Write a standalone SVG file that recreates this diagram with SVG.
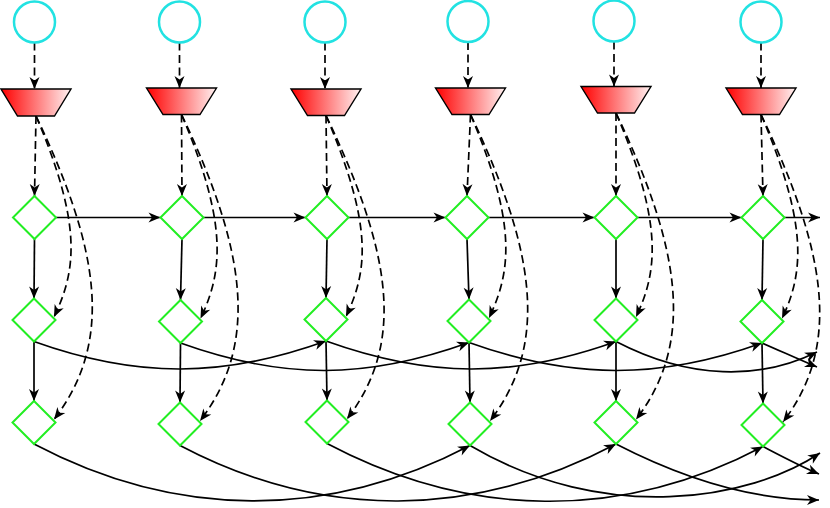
<svg xmlns="http://www.w3.org/2000/svg" width="830" height="508" viewBox="0 0 830 508">
<style>
.c{fill:#fff;stroke:#22e2e2;stroke-width:2.5}
.t{fill:url(#g);stroke:#000;stroke-width:1.4}
.d{fill:#fff;stroke:#22ee22;stroke-width:2}
.e{fill:none;stroke:#000;stroke-width:1.7;marker-end:url(#ah)}
.ds{stroke-dasharray:8 4.5}
</style>
<defs>
<linearGradient id="g" x1="0" y1="0" x2="1" y2="0">
<stop offset="0" stop-color="#ff0000"/>
<stop offset="1" stop-color="#fff2f2"/>
</linearGradient>
<marker id="ah" viewBox="-13 -6 14 12" refX="0" refY="0" markerWidth="14" markerHeight="12" markerUnits="userSpaceOnUse" orient="auto">
<path d="M0,0 L-12,-5 L-8.5,0 L-12,5 Z" fill="#000"/>
</marker>
</defs>
<g id="connectors">
<path class="e ds" d="M34.5,42.5 L34.5,89"/>
<path class="e ds" d="M179.5,42.5 L179.5,88"/>
<path class="e ds" d="M325,42.5 L325,89"/>
<path class="e ds" d="M468,42 L468,88"/>
<path class="e ds" d="M614,41.5 L614,86.5"/>
<path class="e ds" d="M761,42.5 L761,88"/>
<path class="e ds" d="M36,116 L34.5,196"/>
<path class="e ds" d="M181.5,114.5 L182,196"/>
<path class="e ds" d="M326,115.5 L327,196"/>
<path class="e ds" d="M470.5,114.5 L467,196"/>
<path class="e ds" d="M616,113 L616,196"/>
<path class="e ds" d="M761,114.5 L763,196"/>
<path class="e ds" d="M36,116 C83,226 76,271 54,317"/>
<path class="e ds" d="M181.5,114.5 C228.5,224.5 222.5,272.5 200.5,318.5"/>
<path class="e ds" d="M326,115.5 C373,225.5 368,270.5 346,316.5"/>
<path class="e ds" d="M470.5,114.5 C517.5,224.5 511,272 489,318"/>
<path class="e ds" d="M616,113 C663,223 658,271 636,317"/>
<path class="e ds" d="M761,114.5 C808,224.5 804,272.5 782,318.5"/>
<path class="e ds" d="M36,116 C100,250 114,341.5 54,419.5"/>
<path class="e ds" d="M181.5,114.5 C245.5,248.5 260,343 200,421"/>
<path class="e ds" d="M326,115.5 C390,249.5 407,341 347,419"/>
<path class="e ds" d="M470.5,114.5 C534.5,248.5 550,343 490,421"/>
<path class="e ds" d="M616,113 C680,247 696,341.5 636,419.5"/>
<path class="e ds" d="M761,114.5 C825,248.5 843,344 783,422"/>
<path class="e" d="M34.5,239 L34,298.5"/>
<path class="e" d="M182,239 L180.5,300"/>
<path class="e" d="M327,239 L326,298"/>
<path class="e" d="M467,239 L469,299.5"/>
<path class="e" d="M616,239 L616,298.5"/>
<path class="e" d="M763,239 L762,300"/>
<path class="e" d="M34,341.5 L34,401"/>
<path class="e" d="M180.5,343 L180,402.5"/>
<path class="e" d="M326,341 L327,400.5"/>
<path class="e" d="M469,342.5 L470,402.5"/>
<path class="e" d="M616,341.5 L616,401"/>
<path class="e" d="M762,343 L763,403.5"/>
<path class="e" d="M56,217.5 L160.5,217.5"/>
<path class="e" d="M203.5,217.5 L305.5,217.5"/>
<path class="e" d="M348.5,217.5 L445.5,217.5"/>
<path class="e" d="M488.5,217.5 L594.5,217.5"/>
<path class="e" d="M637.5,217.5 L741.5,217.5"/>
<path class="e" d="M784.5,217.5 L820,217.5"/>
<path class="e" d="M34,341.5 C137,378.5 223,378 326,341"/>
<path class="e" d="M180.5,343 C283.5,380 366,379.5 469,342.5"/>
<path class="e" d="M326,341 C429,378 513,378.5 616,341.5"/>
<path class="e" d="M469,342.5 C572,379.5 659,380 762,343"/>
<path class="e" d="M616,341.5 C690,380 760,380 817,352"/>
<path class="e" d="M762,343 C785,353 800,360 817,367"/>
<path class="e" d="M34,444 C176,519 328,520 470,445.5"/>
<path class="e" d="M180,445.5 C322,520.5 474,519 616,444"/>
<path class="e" d="M327,443.5 C469,518.5 621,521.5 763,446.5"/>
<path class="e" d="M470,445.5 C605,525 750,500 820,453"/>
<path class="e" d="M616,444 C680,477 750,500 819,500"/>
<path class="e" d="M763,446.5 C785,458 800,466 819,474"/>
</g>
<g id="src1"><circle class="c" cx="34.5" cy="22" r="20.5"/></g>
<g id="src2"><circle class="c" cx="179.5" cy="22" r="20.5"/></g>
<g id="src3"><circle class="c" cx="325" cy="22" r="20.5"/></g>
<g id="src4"><circle class="c" cx="468" cy="21.5" r="20.5"/></g>
<g id="src5"><circle class="c" cx="614" cy="21" r="20.5"/></g>
<g id="src6"><circle class="c" cx="761" cy="22" r="20.5"/></g>
<g id="trap1"><polygon class="t" points="1,89 71,89 54.5,116 17.5,116"/></g>
<g id="trap2"><polygon class="t" points="146.5,88 216.5,88 200,114.5 163,114.5"/></g>
<g id="trap3"><polygon class="t" points="291,89 361,89 344.5,115.5 307.5,115.5"/></g>
<g id="trap4"><polygon class="t" points="435.5,88 505.5,88 489,114.5 452,114.5"/></g>
<g id="trap5"><polygon class="t" points="581,86.5 651,86.5 634.5,113 597.5,113"/></g>
<g id="trap6"><polygon class="t" points="726,88 796,88 779.5,114.5 742.5,114.5"/></g>
<g id="d1_1"><polygon class="d" points="34.5,196 56,217.5 34.5,239 13,217.5"/></g>
<g id="d1_2"><polygon class="d" points="182,196 203.5,217.5 182,239 160.5,217.5"/></g>
<g id="d1_3"><polygon class="d" points="327,196 348.5,217.5 327,239 305.5,217.5"/></g>
<g id="d1_4"><polygon class="d" points="467,196 488.5,217.5 467,239 445.5,217.5"/></g>
<g id="d1_5"><polygon class="d" points="616,196 637.5,217.5 616,239 594.5,217.5"/></g>
<g id="d1_6"><polygon class="d" points="763,196 784.5,217.5 763,239 741.5,217.5"/></g>
<g id="d2_1"><polygon class="d" points="34,298.5 55.5,320 34,341.5 12.5,320"/></g>
<g id="d2_2"><polygon class="d" points="180.5,300 202,321.5 180.5,343 159,321.5"/></g>
<g id="d2_3"><polygon class="d" points="326,298 347.5,319.5 326,341 304.5,319.5"/></g>
<g id="d2_4"><polygon class="d" points="469,299.5 490.5,321 469,342.5 447.5,321"/></g>
<g id="d2_5"><polygon class="d" points="616,298.5 637.5,320 616,341.5 594.5,320"/></g>
<g id="d2_6"><polygon class="d" points="762,300 783.5,321.5 762,343 740.5,321.5"/></g>
<g id="d3_1"><polygon class="d" points="34,401 55.5,422.5 34,444 12.5,422.5"/></g>
<g id="d3_2"><polygon class="d" points="180,402.5 201.5,424 180,445.5 158.5,424"/></g>
<g id="d3_3"><polygon class="d" points="327,400.5 348.5,422 327,443.5 305.5,422"/></g>
<g id="d3_4"><polygon class="d" points="470,402.5 491.5,424 470,445.5 448.5,424"/></g>
<g id="d3_5"><polygon class="d" points="616,401 637.5,422.5 616,444 594.5,422.5"/></g>
<g id="d3_6"><polygon class="d" points="763,403.5 784.5,425 763,446.5 741.5,425"/></g>
</svg>
